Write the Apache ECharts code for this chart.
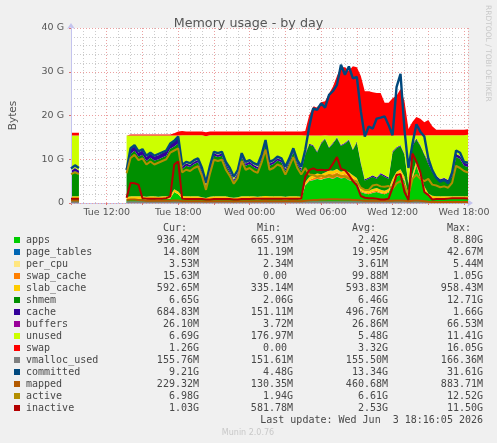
<!DOCTYPE html>
<html>
<head>
<meta charset="utf-8">
<title>Memory usage - by day</title>
<script src="https://cdn.jsdelivr.net/npm/echarts@6.0.0/dist/echarts.min.js"></script>
<style>
  html, body { margin: 0; padding: 0; background: #f0f0f0; }
  #chart { width: 497px; height: 443px; }
</style>
</head>
<body>
<div id="chart"></div>
<script>
// sample times: hours since Tue 00:00, one every 20 minutes
const hours = [9, 9.33, 9.67, 10, 10.33, 10.67, 11, 11.33, 11.67, 12, 12.33, 12.67, 13, 13.33,
  13.67, 14, 14.33, 14.67, 15, 15.33, 15.67, 16, 16.33, 16.67, 17, 17.33, 17.67, 18, 18.33, 18.67,
  19, 19.33, 19.67, 20, 20.33, 20.67, 21, 21.33, 21.67, 22, 22.33, 22.67, 23, 23.33, 23.67, 24,
  24.33, 24.67, 25, 25.33, 25.67, 26, 26.33, 26.67, 27, 27.33, 27.67, 28, 28.33, 28.67, 29, 29.33,
  29.67, 30, 30.33, 30.67, 31, 31.33, 31.67, 32, 32.33, 32.67, 33, 33.33, 33.67, 34, 34.33, 34.67,
  35, 35.33, 35.67, 36, 36.33, 36.67, 37, 37.33, 37.67, 38, 38.33, 38.67, 39, 39.33, 39.67, 40,
  40.33, 40.67, 41, 41.33, 41.67, 42, 42.33];

// values in GB; null = no data
const apps = [0.9, 0.9, 0.9, null, null, null, null, null, null, null, null, null, null, null,
  0.8, 0.9, 0.9, 0.9, 0.9, 0.8, 0.9, 0.9, 0.8, 0.9, 0.9, 1.0, 2.5, 2.0,
  1.0, 0.9, 0.9, 0.9, 0.9, 0.8, 0.7, 0.9, 0.9, 0.9, 0.9, 0.9, 0.8, 0.7, 0.8, 0.9, 0.9, 0.9, 0.9, 0.8, 0.9, 1.0, 0.9, 0.9, 0.9, 0.9, 0.8, 0.9, 0.9, 0.9, 0.8,
  4.0, 5.0, 5.2, 5.5, 5.3, 5.6, 5.8, 5.5, 6.0, 5.6, 5.8, 5.2, 5.0, 4.6, 2.5, 2.2, 2.0, 2.3, 2.5, 2.2, 2.0, 2.4, 4.5, 6.0, 6.5, 5.0, 1.0, 5.5, 8.5, 5.8, 3.0, 1.5, 1.0, 0.9, 0.9, 0.9, 0.9, 0.9, 0.9, 0.9, 0.9, 0.94];
const pageTables = [0.015, 0.015, 0.015, null, null, null, null, null, null, null, null, null, null, null,
  0.014, 0.014, 0.014, 0.014, 0.014, 0.014, 0.014, 0.014, 0.014, 0.014, 0.014, 0.014, 0.014, 0.014,
  0.015, 0.015, 0.015, 0.015, 0.015, 0.015, 0.015, 0.015, 0.015, 0.015, 0.015, 0.015, 0.015, 0.015, 0.015, 0.015, 0.015, 0.015, 0.015, 0.015, 0.015, 0.015, 0.015, 0.015, 0.015, 0.015, 0.015, 0.015, 0.015, 0.015, 0.015,
  0.03, 0.035, 0.04, 0.04, 0.04, 0.043, 0.04, 0.04, 0.04, 0.035, 0.035, 0.03, 0.03, 0.025, 0.02, 0.02, 0.02, 0.02, 0.02, 0.02, 0.02, 0.02, 0.02, 0.02, 0.02, 0.02, 0.02, 0.02, 0.02, 0.02, 0.02, 0.015, 0.015, 0.015, 0.015, 0.015, 0.015, 0.015, 0.015, 0.015, 0.015, 0.015];
const perCpu = [0.0035, 0.0035, 0.0035, null, null, null, null, null, null, null, null, null, null, null,
  0.0035, 0.0035, 0.0035, 0.0035, 0.0035, 0.0035, 0.0035, 0.0035, 0.0035, 0.0035, 0.0035, 0.0035, 0.0035, 0.0035,
  0.0035, 0.0035, 0.0035, 0.0035, 0.0035, 0.0035, 0.0035, 0.0035, 0.0035, 0.0035, 0.0035, 0.0035, 0.0035, 0.0035, 0.0035, 0.0035, 0.0035, 0.0035, 0.0035, 0.0035, 0.0035, 0.0035, 0.0035, 0.0035, 0.0035, 0.0035, 0.0035, 0.0035, 0.0035, 0.0035, 0.0035,
  0.004, 0.005, 0.005, 0.005, 0.005, 0.005, 0.005, 0.005, 0.005, 0.005, 0.005, 0.005, 0.004, 0.004, 0.0035, 0.0035, 0.0035, 0.0035, 0.0035, 0.0035, 0.0035, 0.0035, 0.0035, 0.0035, 0.0035, 0.0035, 0.0035, 0.0035, 0.0035, 0.0035, 0.0035, 0.0035, 0.0035, 0.0035, 0.0035, 0.0035, 0.0035, 0.0035, 0.0035, 0.0035, 0.0035, 0.0035];
const swapCache = [0, 0, 0, null, null, null, null, null, null, null, null, null, null, null,
  0, 0, 0, 0, 0, 0, 0, 0, 0, 0, 0, 0, 0, 0,
  0.01, 0.01, 0.01, 0.01, 0.01, 0.01, 0.01, 0.01, 0.01, 0.01, 0.01, 0.01, 0.01, 0.01, 0.01, 0.01, 0.01, 0.01, 0.01, 0.01, 0.01, 0.01, 0.01, 0.01, 0.01, 0.01, 0.01, 0.01, 0.01, 0.01, 0.01,
  0.1, 0.2, 0.4, 0.5, 0.5, 0.6, 0.8, 1.0, 0.9, 0.7, 0.8, 1.0, 0.6, 0.4, 0.3, 0.2, 0.2, 0.3, 0.3, 0.2, 0.2, 0.2, 0.3, 0.4, 0.5, 0.3, 0.1, 0.3, 0.4, 0.3, 0.1, 0.05, 0.02, 0.02, 0.02, 0.02, 0.02, 0.02, 0.02, 0.02, 0.02, 0.016];
const slabCache = [0.6, 0.6, 0.6, null, null, null, null, null, null, null, null, null, null, null,
  0.5, 0.6, 0.6, 0.6, 0.6, 0.6, 0.6, 0.6, 0.6, 0.6, 0.6, 0.6, 0.6, 0.6,
  0.6, 0.6, 0.6, 0.6, 0.6, 0.5, 0.4, 0.5, 0.6, 0.6, 0.6, 0.6, 0.5, 0.5, 0.5, 0.6, 0.6, 0.6, 0.6, 0.6, 0.6, 0.6, 0.6, 0.6, 0.6, 0.6, 0.6, 0.6, 0.6, 0.6, 0.6,
  0.6, 0.7, 0.7, 0.7, 0.7, 0.7, 0.8, 0.8, 0.8, 0.8, 0.8, 0.8, 0.7, 0.7, 0.6, 0.6, 0.6, 0.6, 0.6, 0.6, 0.6, 0.6, 0.7, 0.7, 0.7, 0.7, 0.5, 0.7, 0.8, 0.7, 0.7, 0.6, 0.6, 0.6, 0.6, 0.6, 0.6, 0.6, 0.6, 0.6, 0.6, 0.59];
const shmem = [5.2, 5.8, 5.3, null, null, null, null, null, null, null, null, null, null, null,
  5.2, 9.7, 10.4, 9.1, 9.5, 8.2, 8.8, 8.2, 8.5, 8.9, 9.3, 10.8, 9.8, 11.0,
  6.1, 7.0, 6.7, 7.4, 7.8, 5.6, 2.4, 6.1, 9.3, 9.0, 9.3, 7.0, 5.6, 3.7, 5.1, 9.0, 7.0, 7.4, 6.7, 6.3, 8.6, 11.9, 7.0, 7.4, 8.2, 7.8, 5.9, 7.8, 10.1, 7.4, 5.9,
  6.3, 7.4, 6.7, 4.8, 7.0, 7.6, 5.1, 6.2, 7.1, 5.9, 6.1, 7.3, 5.7, 8.1, 5.6, 2.1, 2.7, 2.8, 2.1, 3.5, 3.2, 2.3, 6.0, 5.4, 5.3, 5.0, 2.4, 6.5, 4.8, 6.2, 7.2, 6.8, 5.4, 4.3, 3.5, 3.8, 3.3, 4.5, 9.0, 8.5, 7.0, 6.65];
const cache = [0.6, 0.7, 0.6, null, null, null, null, null, null, null, null, null, null, null,
  0.6, 1.0, 1.1, 0.9, 1.0, 0.9, 1.0, 0.9, 1.0, 1.0, 1.0, 1.1, 1.3, 1.6,
  0.6, 0.5, 0.5, 0.5, 0.5, 0.5, 0.3, 0.5, 0.5, 0.5, 0.5, 0.5, 0.5, 0.4, 0.5, 0.5, 0.5, 0.5, 0.5, 0.5, 0.5, 0.6, 0.5, 0.5, 0.5, 0.5, 0.5, 0.5, 0.5, 0.5, 0.5,
  0.3, 0.2, 0.2, 0.2, 0.2, 0.2, 0.2, 0.2, 0.2, 0.2, 0.2, 0.2, 0.2, 0.2, 0.3, 0.3, 0.3, 0.3, 0.3, 0.3, 0.3, 0.3, 0.3, 0.2, 0.2, 0.2, 0.3, 0.4, 0.2, 0.2, 0.2, 0.5, 0.5, 0.4, 0.4, 0.4, 0.4, 0.5, 0.7, 0.7, 0.7, 0.68];
const buffers = [0.026, 0.026, 0.026, null, null, null, null, null, null, null, null, null, null, null,
  0.03, 0.03, 0.03, 0.03, 0.03, 0.03, 0.03, 0.03, 0.03, 0.03, 0.03, 0.03, 0.03, 0.03,
  0.03, 0.03, 0.03, 0.03, 0.03, 0.03, 0.03, 0.03, 0.03, 0.03, 0.03, 0.03, 0.03, 0.03, 0.03, 0.03, 0.03, 0.03, 0.03, 0.03, 0.03, 0.03, 0.03, 0.03, 0.03, 0.03, 0.03, 0.03, 0.03, 0.03, 0.03,
  0.02, 0.01, 0.01, 0.01, 0.01, 0.01, 0.01, 0.01, 0.01, 0.01, 0.01, 0.01, 0.01, 0.01, 0.01, 0.01, 0.01, 0.01, 0.01, 0.01, 0.01, 0.01, 0.01, 0.01, 0.01, 0.01, 0.01, 0.01, 0.01, 0.01, 0.01, 0.026, 0.026, 0.026, 0.026, 0.026, 0.026, 0.026, 0.026, 0.026, 0.026, 0.026];
const unused = [8.1, 7.4, 8.0, null, null, null, null, null, null, null, null, null, null, null,
  8.3, 3.2, 2.4, 3.9, 3.4, 4.9, 4.1, 4.8, 4.5, 4.0, 3.6, 1.9, 1.2, 0.2,
  7.1, 6.4, 6.7, 6.0, 5.6, 8.0, 11.4, 7.4, 4.1, 4.4, 4.1, 6.4, 8.0, 10.1, 8.5, 4.4, 6.4, 6.0, 6.7, 7.2, 4.8, 1.3, 6.4, 6.0, 5.2, 5.6, 7.6, 5.6, 3.3, 6.0, 7.6,
  4.1, 1.9, 2.2, 3.7, 1.7, 0.7, 2.7, 1.7, 0.4, 2.2, 1.7, 0.9, 3.2, 1.4, 6.1, 10.0, 9.6, 9.1, 9.6, 8.6, 9.1, 9.6, 3.6, 2.7, 2.2, 4.2, 11.1, 2.0, 0.7, 2.2, 4.2, 6.0, 7.9, 9.2, 10.0, 9.7, 10.2, 8.9, 4.2, 4.7, 6.2, 6.69];
const swap = [0.6, 0.6, 0.6, null, null, null, null, null, null, null, null, null, null, null,
  0.0, 0.2, 0.2, 0.2, 0.2, 0.2, 0.2, 0.2, 0.2, 0.2, 0.2, 0.2, 0.5, 0.9,
  1.0, 0.9, 0.9, 0.9, 0.9, 0.9, 0.9, 0.9, 0.9, 0.9, 0.9, 0.9, 0.9, 0.9, 0.9, 0.9, 0.9, 0.9, 0.9, 0.9, 0.9, 0.9, 0.9, 0.9, 0.9, 0.9, 0.9, 0.9, 0.9, 0.9, 0.9,
  1.0, 4.6, 6.6, 6.4, 7.6, 7.8, 9.6, 11.2, 13.6, 15.6, 15.6, 14.8, 15.8, 15.6, 13.6, 10.1, 10.1, 9.9, 9.7, 9.7, 7.5, 7.5, 8.5, 9.1, 10.6, 7.8, 1.5, 3.1, 4.2, 3.8, 3.0, 3.5, 2.1, 1.3, 1.3, 1.3, 1.3, 1.3, 1.3, 1.3, 1.3, 1.26];
const vmallocUsed = [0.155, 0.155, 0.155, null, null, null, null, null, null, null, null, null, null, null,
  0.152, 0.155, 0.155, 0.155, 0.155, 0.155, 0.155, 0.155, 0.155, 0.155, 0.155, 0.155, 0.155, 0.155,
  0.155, 0.155, 0.155, 0.155, 0.155, 0.155, 0.155, 0.155, 0.155, 0.155, 0.155, 0.155, 0.155, 0.155, 0.155, 0.155, 0.155, 0.155, 0.155, 0.155, 0.155, 0.155, 0.155, 0.155, 0.155, 0.155, 0.155, 0.155, 0.155, 0.155, 0.155,
  0.16, 0.166, 0.16, 0.16, 0.16, 0.16, 0.16, 0.16, 0.16, 0.16, 0.16, 0.16, 0.155, 0.155, 0.155, 0.155, 0.155, 0.155, 0.155, 0.155, 0.155, 0.155, 0.155, 0.155, 0.155, 0.155, 0.155, 0.155, 0.155, 0.155, 0.155, 0.155, 0.155, 0.155, 0.155, 0.155, 0.155, 0.155, 0.155, 0.155, 0.155, 0.156];
const committed = [7.9, 8.6, 8.0, null, null, null, null, null, null, null, null, null, null, null,
  7.5, 12.5, 13.2, 11.8, 12.3, 10.8, 11.5, 10.8, 11.2, 11.6, 12.0, 13.6, 14.2, 15.2,
  8.7, 9.4, 9.1, 9.8, 10.2, 8.0, 4.6, 8.5, 11.7, 11.4, 11.7, 9.4, 8.0, 6.0, 7.5, 11.4, 9.4, 9.8, 9.1, 8.7, 11.0, 14.4, 9.4, 9.8, 10.6, 10.2, 8.3, 10.2, 12.5, 9.8, 8.3,
  12.1, 17.4, 21.6, 21.3, 22.8, 21.8, 24.7, 25.6, 27.0, 31.6, 29.3, 31.2, 28.5, 28.8, 21.0, 15.2, 17.5, 17.0, 19.3, 19.5, 19.8, 17.8, 15.5, 26.5, 29.5, 16.7, 8.0, 13.5, 18.0, 16.3, 15.2, 10.2, 7.5, 5.8, 4.9, 5.3, 4.5, 7.0, 12.0, 11.5, 9.4, 9.21];
const mapped = [0.6, 0.6, 0.6, null, null, null, null, null, null, null, null, null, null, null,
  0.7, 0.8, 0.8, 0.7, 0.6, 0.5, 0.5, 0.5, 0.5, 0.5, 0.5, 0.5, 0.6, 0.6,
  0.4, 0.4, 0.4, 0.4, 0.4, 0.4, 0.35, 0.4, 0.4, 0.4, 0.4, 0.4, 0.4, 0.35, 0.4, 0.4, 0.4, 0.4, 0.4, 0.4, 0.4, 0.45, 0.4, 0.4, 0.4, 0.4, 0.4, 0.4, 0.45, 0.4, 0.4,
  0.5, 0.6, 0.7, 0.7, 0.8, 0.8, 0.85, 0.85, 0.88, 0.8, 0.8, 0.8, 0.7, 0.7, 0.6, 0.5, 0.5, 0.5, 0.5, 0.5, 0.5, 0.5, 0.5, 0.6, 0.6, 0.5, 0.4, 0.5, 0.6, 0.5, 0.4, 0.3, 0.25, 0.25, 0.23, 0.23, 0.23, 0.23, 0.23, 0.23, 0.23, 0.23];
const active = [6.6, 7.0, 6.6, null, null, null, null, null, null, null, null, null, null, null,
  6.8, 10.3, 11.0, 9.8, 10.2, 8.8, 9.5, 8.8, 9.2, 9.6, 10.0, 11.5, 12.0, 12.5,
  7.0, 7.6, 7.3, 8.0, 8.4, 6.2, 3.0, 6.7, 9.9, 9.6, 9.9, 7.6, 6.2, 4.4, 5.7, 9.6, 7.6, 8.0, 7.3, 6.9, 9.2, 12.2, 7.6, 8.0, 8.8, 8.4, 6.5, 8.4, 10.5, 8.0, 6.5,
  8.0, 6.5, 6.4, 6.0, 6.3, 6.0, 6.4, 6.0, 6.5, 6.2, 6.0, 5.6, 5.2, 4.9, 3.5, 3.0, 3.0, 4.0, 4.2, 3.8, 3.7, 3.9, 3.2, 4.5, 5.0, 4.0, 1.9, 5.5, 6.5, 5.5, 5.0, 5.5, 4.2, 4.0, 3.6, 3.8, 3.5, 4.6, 8.5, 8.0, 7.3, 6.98];
const inactive = [1.0, 1.0, 1.0, null, null, null, null, null, null, null, null, null, null, null,
  1.2, 4.6, 4.5, 4.2, 1.1, 1.0, 1.0, 1.0, 1.0, 1.0, 1.1, 1.5, 8.8, 9.5,
  1.0, 0.9, 0.9, 0.9, 0.9, 0.9, 0.8, 0.8, 0.9, 0.9, 0.9, 0.9, 0.9, 0.8, 0.8, 0.9, 0.9, 0.9, 1.0, 1.0, 1.0, 1.0, 1.0, 1.0, 1.0, 1.0, 1.0, 1.0, 1.0, 1.0, 1.0,
  6.0, 7.5, 7.9, 7.5, 7.6, 7.5, 7.6, 9.0, 10.5, 7.8, 7.5, 6.4, 5.0, 4.0, 1.6, 1.2, 1.1, 1.1, 1.0, 0.8, 0.8, 1.0, 3.5, 6.4, 6.6, 2.5, 0.7, 11.3, 9.5, 7.0, 2.5, 1.8, 0.8, 0.9, 0.9, 0.9, 1.0, 1.1, 1.1, 1.1, 1.1, 1.03];

// legend table text
const legendNames = ['apps', 'page_tables', 'per_cpu', 'swap_cache', 'slab_cache', 'shmem', 'cache',
  'buffers', 'unused', 'swap', 'vmalloc_used', 'committed', 'mapped', 'active', 'inactive'];
const curVals = ['936.42M', '14.80M', '3.53M', '15.63M', '592.65M', '6.65G', '684.83M', '26.10M',
  '6.69G', '1.26G', '155.76M', '9.21G', '229.32M', '6.98G', '1.03G'];
const minVals = ['665.91M', '11.19M', '2.34M', '0.00', '335.14M', '2.06G', '151.11M', '3.72M',
  '176.97M', '0.00', '151.61M', '4.48G', '130.35M', '1.94G', '581.78M'];
const avgVals = ['2.42G', '19.95M', '3.61M', '99.88M', '593.83M', '6.46G', '496.76M', '26.86M',
  '5.48G', '3.32G', '155.50M', '13.34G', '460.68M', '6.61G', '2.53G'];
const maxVals = ['8.80G', '42.67M', '5.44M', '1.05G', '958.43M', '12.71G', '1.66G', '66.53M',
  '11.41G', '16.05G', '166.36M', '31.61G', '883.71M', '12.52G', '11.50G'];

const colors = {
  apps: '#00cc00', page_tables: '#0066b3', per_cpu: '#ffe680', swap_cache: '#ff8000',
  slab_cache: '#ffcc00', shmem: '#008f00', cache: '#330099', buffers: '#990099',
  unused: '#ccff00', swap: '#ff0000', vmalloc_used: '#808080', committed: '#00487d',
  mapped: '#b35a00', active: '#b38f00', inactive: '#b30000'
};

const areas = [
  ['apps', apps], ['page_tables', pageTables], ['per_cpu', perCpu], ['swap_cache', swapCache],
  ['slab_cache', slabCache], ['shmem', shmem], ['cache', cache], ['buffers', buffers],
  ['unused', unused], ['swap', swap]
];
const lines = [
  ['vmalloc_used', vmallocUsed], ['committed', committed], ['mapped', mapped],
  ['active', active], ['inactive', inactive]
];

const series = [];
areas.forEach(([name, arr]) => {
  series.push({
    name: name, type: 'line', stack: 'mem', data: arr, symbol: 'none',
    xAxisIndex: 0, yAxisIndex: 0,
    lineStyle: { width: 0 },
    areaStyle: { color: colors[name], opacity: 1 },
    itemStyle: { color: colors[name] }
  });
});
lines.forEach(([name, arr]) => {
  series.push({
    name: name, type: 'line', data: arr, symbol: 'none',
    xAxisIndex: 0, yAxisIndex: 0,
    lineStyle: { width: name === 'committed' ? 2.4 : 2, color: colors[name] },
    itemStyle: { color: colors[name] }
  });
});

const sans = "'DejaVu Sans', sans-serif";
const mono = "10px 'DejaVu Sans Mono', monospace";
const txt = '#484848';

// legend table drawn as text
const graphics = [];
const colRight = [199, 293, 388, 483];
['Cur:', 'Min:', 'Avg:', 'Max:'].forEach((h, c) => {
  graphics.push({ type: 'text', x: colRight[c] - 12, y: 228,
    style: { text: h, font: mono, fill: txt, align: 'right', verticalAlign: 'middle' } });
});
legendNames.forEach((name, i) => {
  const y = 240 + i * 12;
  graphics.push({ type: 'rect', shape: { x: 14, y: y - 3, width: 6, height: 6 },
    style: { fill: colors[name] } });
  graphics.push({ type: 'text', x: 26, y: y,
    style: { text: name, font: mono, fill: txt, align: 'left', verticalAlign: 'middle' } });
  [curVals, minVals, avgVals, maxVals].forEach((col, c) => {
    const v = col[i];
    const shift = /[A-Z]$/.test(v) ? 0 : 6;
    graphics.push({ type: 'text', x: colRight[c] - shift, y: y,
      style: { text: v, font: mono, fill: txt, align: 'right', verticalAlign: 'middle' } });
  });
});
graphics.push({ type: 'text', x: 483, y: 420,
  style: { text: 'Last update: Wed Jun  3 18:16:05 2026', font: mono, fill: txt, align: 'right', verticalAlign: 'middle' } });
graphics.push({ type: 'text', x: 248, y: 433,
  style: { text: 'Munin 2.0.76', font: "8px " + sans, fill: '#c8c8c8', align: 'center', verticalAlign: 'middle' } });
graphics.push({ type: 'text', x: 488, y: 5, rotation: -Math.PI / 2,
  style: { text: 'RRDTOOL / TOBI OETIKER', font: "7.5px " + sans, fill: '#c8c8c8', align: 'left', verticalAlign: 'middle' } });

function hourLabel(v) {
  if (v % 6 !== 0) return '';
  const day = v < 24 ? 'Tue' : 'Wed';
  const h = v % 24;
  return day + ' ' + (h < 10 ? '0' + h : h) + ':00';
}

const minorGrid = { show: true, lineStyle: { color: '#cbcbcb', type: [1, 2], width: 1 } };
const majorGrid = { show: true, lineStyle: { color: '#eba0a0', type: [1, 2], width: 1 } };
const tEnd = hours[hours.length - 1];
const hidden = { axisLine: { show: false }, axisTick: { show: false }, axisLabel: { show: false } };

const chart = echarts.init(document.getElementById('chart'));
chart.setOption({
  animation: false,
  backgroundColor: '#f0f0f0',
  title: {
    text: 'Memory usage - by day', left: 'center', top: 12,
    textStyle: { fontFamily: sans, fontSize: 12.7, fontWeight: 'normal', color: '#555' }
  },
  grid: { left: 67, top: 28, width: 401, height: 175, show: true, backgroundColor: '#fff', borderWidth: 0 },
  xAxis: [
    { type: 'category', data: hours, boundaryGap: false, show: false },
    // hourly minor grid
    Object.assign({ type: 'value', position: 'bottom', min: 9, max: tEnd, interval: 1, splitLine: minorGrid }, hidden),
    {
      type: 'value', position: 'bottom', min: 9, max: tEnd, interval: 3,
      axisLine: { show: true, lineStyle: { color: '#c4c4ee', width: 1 }, symbol: ['none', 'arrow'], symbolSize: [6, 6], symbolOffset: [0, 5] },
      axisTick: { show: true, length: 2, lineStyle: { color: '#e07070' } },
      axisLabel: { formatter: hourLabel, fontFamily: sans, fontSize: 9.5, color: '#555', margin: 5 },
      splitLine: majorGrid
    }
  ],
  yAxis: [
    {
      type: 'value', min: 0, max: 40, interval: 10,
      name: 'Bytes', nameLocation: 'middle', nameGap: 52, nameRotate: 90,
      nameTextStyle: { fontFamily: sans, fontSize: 10.5, color: '#555' },
      axisLine: { show: true, lineStyle: { color: '#c4c4ee', width: 1 }, symbol: ['none', 'arrow'], symbolSize: [6, 6], symbolOffset: [0, 5] },
      axisTick: { show: true, length: 2, lineStyle: { color: '#e07070' } },
      axisLabel: { formatter: v => v === 0 ? '0' : v + ' G', fontFamily: sans, fontSize: 9.5, color: '#555', margin: 7 },
      splitLine: majorGrid,
      z: 3
    },
    // 2 G minor grid
    Object.assign({ type: 'value', position: 'left', min: 0, max: 40, interval: 2, splitLine: minorGrid, z: 1 }, hidden)
  ],
  series: series,
  graphic: graphics
});
</script>
</body>
</html>
